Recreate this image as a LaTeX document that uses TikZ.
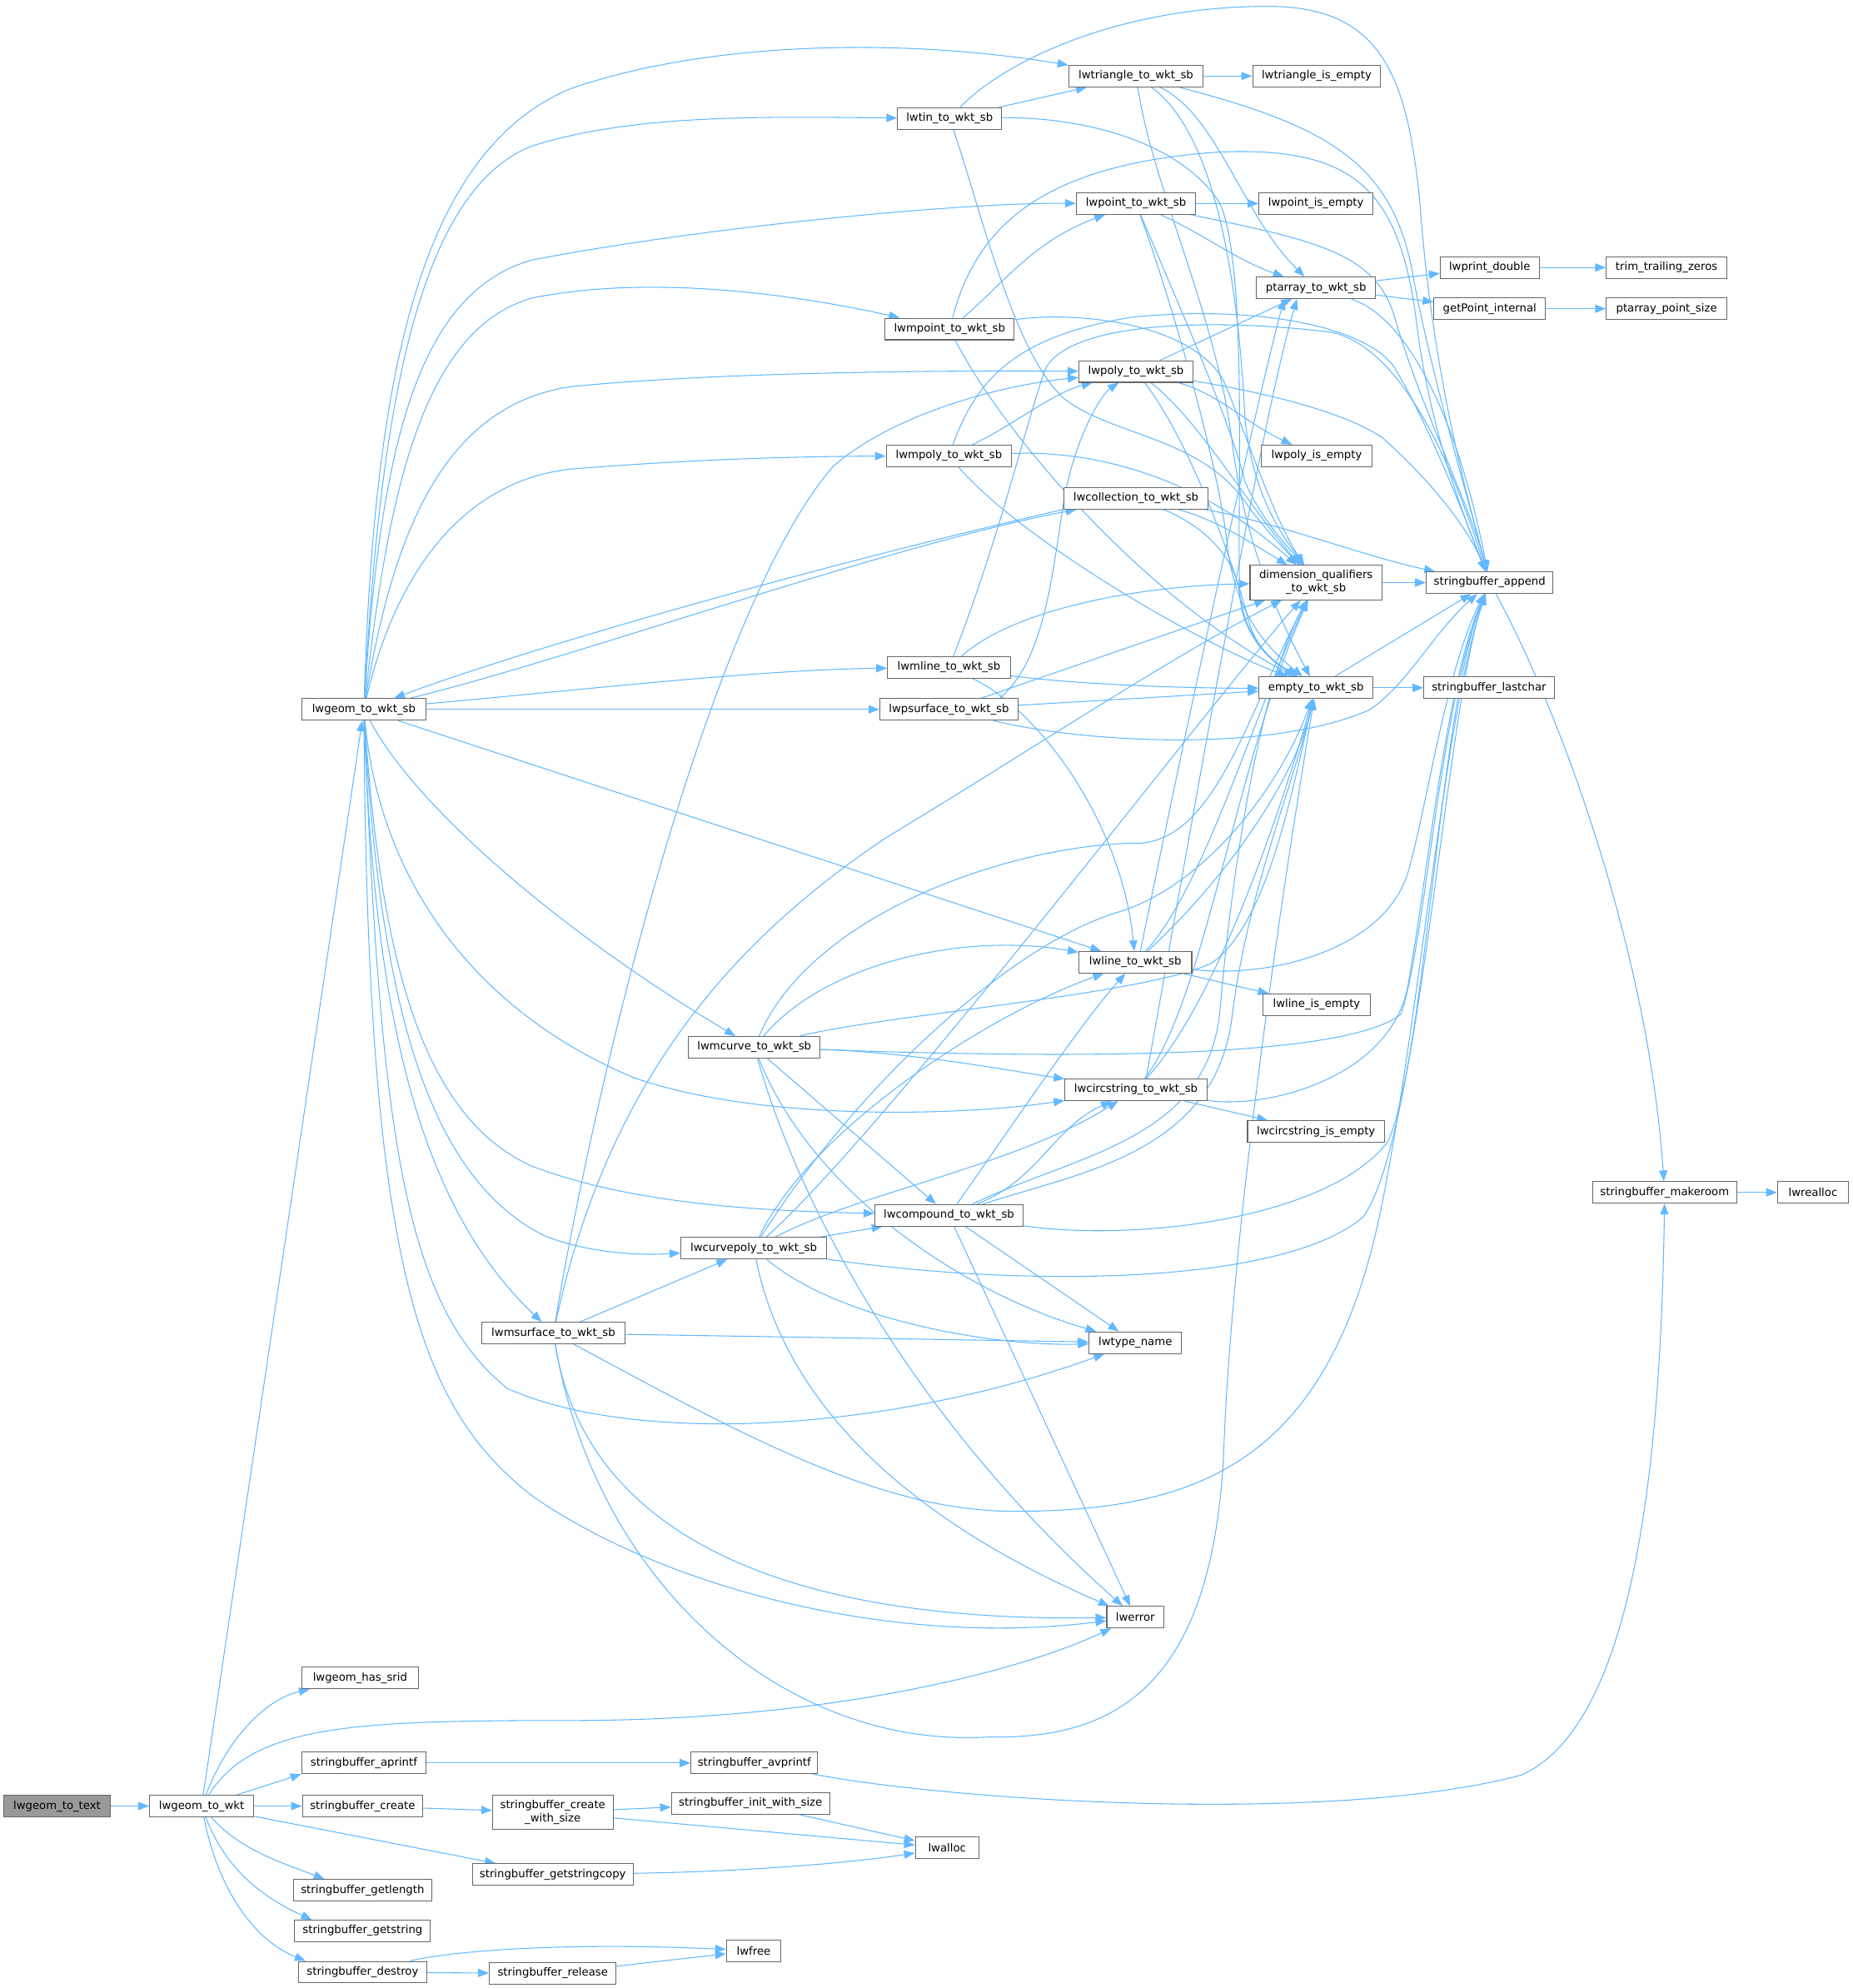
\documentclass[tikz,border=0pt]{standalone}
\usepackage{fontspec}
\newfontfamily\nf{DejaVu Sans}
\usetikzlibrary{arrows.meta}
\definecolor{edgec}{RGB}{99,184,255}
\definecolor{bordc}{RGB}{102,102,102}
\definecolor{grayf}{RGB}{153,153,153}
\pgfdeclarelayer{bg}
\pgfsetlayers{bg,main}
\begin{document}
\begin{tikzpicture}[x=1pt,y=-1pt,
  fn/.style={draw=bordc, line width=0.7pt, fill=white, rectangle, minimum height=17pt, inner xsep=2pt, inner ysep=1pt, font={\nf\fontsize{8.7}{10.5}\selectfont}, text=black},
  fn2/.style={fn, minimum height=27pt, align=center},
  ed/.style={draw=edgec, line width=0.7pt, -{Triangle[length=8.5pt,width=6.5pt]}}]
\useasboundingbox (0,0) rectangle (1461,1568);
% nodes
\node[fn, fill=grayf, minimum width=84pt] (text) at (45,1424.5) {lwgeom\_to\_text};
\node[fn, minimum width=82pt] (wkt) at (159,1424.5) {lwgeom\_to\_wkt};
\node[fn, minimum width=98pt] (sb) at (287,559.5) {lwgeom\_to\_wkt\_sb};
\node[fn, minimum width=92pt] (srid) at (284,1323.5) {lwgeom\_has\_srid};
\node[fn, minimum width=98pt] (aprintf) at (287,1390.5) {stringbuffer\_aprintf};
\node[fn, minimum width=95pt] (create) at (286,1424.5) {stringbuffer\_create};
\node[fn2, minimum width=95pt] (createws) at (436,1429.5) {stringbuffer\_create\\\_with\_size};
\node[fn, minimum width=127pt] (getstringcopy) at (436,1478.5) {stringbuffer\_getstringcopy};
\node[fn, minimum width=109pt] (getlength) at (286,1491) {stringbuffer\_getlength};
\node[fn, minimum width=107pt] (getstring) at (286,1523) {stringbuffer\_getstring};
\node[fn, minimum width=101pt] (destroy) at (286,1555.5) {stringbuffer\_destroy};
\node[fn, minimum width=100pt] (release) at (436,1556.5) {stringbuffer\_release};
\node[fn, minimum width=100pt] (avprintf) at (595,1390.5) {stringbuffer\_avprintf};
\node[fn, minimum width=125pt] (initws) at (592,1422.5) {stringbuffer\_init\_with\_size};
\node[fn, minimum width=50pt] (lwalloc) at (747,1457.5) {lwalloc};
\node[fn, minimum width=43pt] (lwfree) at (594.5,1538.5) {lwfree};
\node[fn, minimum width=106pt] (triangle) at (896,60) {lwtriangle\_to\_wkt\_sb};
\node[fn, minimum width=82pt] (tin) at (749,93.5) {lwtin\_to\_wkt\_sb};
\node[fn, minimum width=94pt] (point) at (896,160.5) {lwpoint\_to\_wkt\_sb};
\node[fn, minimum width=102pt] (mpoint) at (749,259.5) {lwmpoint\_to\_wkt\_sb};
\node[fn, minimum width=90pt] (poly) at (896,293) {lwpoly\_to\_wkt\_sb};
\node[fn, minimum width=99pt] (mpoly) at (748.5,359.5) {lwmpoly\_to\_wkt\_sb};
\node[fn, minimum width=114pt] (collection) at (896,393) {lwcollection\_to\_wkt\_sb};
\node[fn, minimum width=97pt] (mline) at (748.5,526.5) {lwmline\_to\_wkt\_sb};
\node[fn, minimum width=109pt] (psurface) at (748.5,559.5) {lwpsurface\_to\_wkt\_sb};
\node[fn, minimum width=89pt] (line) at (895.5,759) {lwline\_to\_wkt\_sb};
\node[fn, minimum width=104pt] (mcurve) at (595,826) {lwmcurve\_to\_wkt\_sb};
\node[fn, minimum width=112pt] (circstring) at (896,859.5) {lwcircstring\_to\_wkt\_sb};
\node[fn, minimum width=117pt] (compound) at (748.5,958.5) {lwcompound\_to\_wkt\_sb};
\node[fn, minimum width=115pt] (curvepoly) at (594.5,984.5) {lwcurvepoly\_to\_wkt\_sb};
\node[fn, minimum width=113pt] (msurface) at (436.5,1051.5) {lwmsurface\_to\_wkt\_sb};
\node[fn, minimum width=73pt] (typename) at (895.5,1059) {lwtype\_name};
\node[fn, minimum width=45pt] (lwerror) at (895.5,1275.5) {lwerror};
\node[fn, minimum width=101pt] (triempty) at (1038.5,60) {lwtriangle\_is\_empty};
\node[fn, minimum width=90pt] (pointempty) at (1038,160.5) {lwpoint\_is\_empty};
\node[fn, minimum width=94pt] (ptarray) at (1038,227) {ptarray\_to\_wkt\_sb};
\node[fn, minimum width=87pt] (polyempty) at (1038.5,359.5) {lwpoly\_is\_empty};
\node[fn2, minimum width=104pt] (dim) at (1038,459.5) {dimension\_qualifiers\\\_to\_wkt\_sb};
\node[fn, minimum width=90pt] (empty) at (1038,542.5) {empty\_to\_wkt\_sb};
\node[fn, minimum width=85pt] (lineempty) at (1038.5,792.5) {lwline\_is\_empty};
\node[fn, minimum width=108pt] (circempty) at (1038,892.5) {lwcircstring\_is\_empty};
\node[fn, minimum width=100pt] (append) at (1175,459.5) {stringbuffer\_append};
\node[fn, minimum width=103pt] (lastchar) at (1174.5,542.5) {stringbuffer\_lastchar};
\node[fn, minimum width=78pt] (lwprint) at (1175,211) {lwprint\_double};
\node[fn, minimum width=88pt] (getpoint) at (1175,243.5) {getPoint\_internal};
\node[fn, minimum width=95pt] (trim) at (1314.5,211) {trim\_trailing\_zeros};
\node[fn, minimum width=95pt] (ptsize) at (1314.5,243.5) {ptarray\_point\_size};
\node[fn, minimum width=114pt] (makeroom) at (1313,940.5) {stringbuffer\_makeroom};
\node[fn, minimum width=56pt] (realloc) at (1430,940.5) {lwrealloc};
% edges
\begin{pgfonlayer}{bg}
% bottom left part
\draw[ed] (text) -- (wkt);
\draw[ed] (wkt) -- (sb);
\draw[ed] (wkt) .. controls (180,1370) and (210,1340) .. (srid);
\draw[ed] (wkt) -- (aprintf.south west);
\draw[ed] (wkt) -- (create);
\draw[ed] (wkt) -- ([xshift=-45pt]getstringcopy.north);
\draw[ed] (wkt) .. controls (190,1460) and (225,1470) .. ([xshift=-30pt]getlength.north);
\draw[ed] (wkt) .. controls (180,1480) and (215,1500) .. ([xshift=-40pt]getstring.north);
\draw[ed] (wkt) .. controls (172,1490) and (200,1530) .. ([xshift=-45pt]destroy.north);
\draw[ed] (wkt) .. controls (200,1360) and (280,1357) .. (450,1357) .. controls (650,1357) and (800,1320) .. (lwerror);
\draw[ed] (create) -- (createws);
\draw[ed] (createws) -- (initws);
\draw[ed] (createws) -- (lwalloc);
\draw[ed] (initws) -- (lwalloc);
\draw[ed] (getstringcopy) .. controls (600,1476) and (680,1468) .. (lwalloc);
\draw[ed] (aprintf) -- (avprintf);
\draw[ed] (destroy) -- (release);
\draw[ed] (destroy) .. controls (360,1538) and (450,1532) .. (lwfree);
\draw[ed] (release) -- (lwfree);
\draw[ed] (avprintf) .. controls (750,1420) and (1050,1440) .. (1200,1400) .. controls (1290,1360) and (1310,1150) .. (makeroom);
\draw[ed] (makeroom) -- (realloc);
\draw[ed] (append) .. controls (1230,560) and (1300,750) .. (makeroom);
\draw[ed] (lwprint) -- (trim);
\draw[ed] (getpoint) -- (ptsize);
\draw[ed] (ptarray) -- (lwprint);
\draw[ed] (ptarray) -- (getpoint);
\draw[ed] (ptarray) .. controls (1110,250) and (1150,330) .. (append);
\draw[ed] (dim) -- (append);
\draw[ed] (empty) -- (append);
\draw[ed] (empty) -- (lastchar);
\draw[ed] (triangle) -- (triempty);
\draw[ed] (point) -- (pointempty);
% from lwgeom_to_wkt_sb
\draw[ed] (sb) .. controls (295,300) and (330,120) .. (450,70) .. controls (550,35) and (700,28) .. (triangle);
\draw[ed] (sb) .. controls (300,320) and (330,150) .. (420,115) .. controls (500,90) and (600,92) .. (tin);
\draw[ed] (sb) .. controls (300,350) and (330,230) .. (420,205) .. controls (550,180) and (750,160) .. (point);
\draw[ed] (sb) .. controls (305,400) and (330,260) .. (420,235) .. controls (520,215) and (640,235) .. (mpoint);
\draw[ed] (sb) .. controls (310,420) and (350,320) .. (450,305) .. controls (550,295) and (700,292) .. (poly);
\draw[ed] (sb) .. controls (310,460) and (360,380) .. (450,370) .. controls (550,362) and (630,360) .. (mpoly);
\draw[ed] (sb) .. controls (450,520) and (700,430) .. (collection);
\draw[ed] (collection.south west) .. controls (650,445) and (420,510) .. (sb);
\draw[ed] (sb) .. controls (450,545) and (600,528) .. (mline);
\draw[ed] (sb) -- (psurface);
\draw[ed] (sb) -- (line);
\draw[ed] (sb) .. controls (330,640) and (450,740) .. (mcurve);
\draw[ed] (sb) .. controls (300,700) and (380,800) .. (500,850) .. controls (600,885) and (760,880) .. (circstring);
\draw[ed] (sb) .. controls (300,750) and (330,880) .. (420,920) .. controls (500,950) and (600,955) .. (compound);
\draw[ed] (sb) .. controls (300,800) and (340,930) .. (430,975) .. controls (470,990) and (510,990) .. (curvepoly);
\draw[ed] (sb) .. controls (295,800) and (330,950) .. (msurface);
\draw[ed] (sb) .. controls (300,900) and (320,1030) .. (400,1095) .. controls (500,1140) and (700,1130) .. (typename);
\draw[ed] (sb) .. controls (290,1000) and (330,1110) .. (420,1180) .. controls (520,1250) and (700,1300) .. (lwerror);
% triangle
\draw[ed] (tin) -- (triangle);
\draw[ed] (triangle) .. controls (1050,100) and (1100,130) .. (1115,220) .. controls (1130,300) and (1160,400) .. (append);
\draw[ed] (triangle) .. controls (960,90) and (980,170) .. (ptarray);
\draw[ed] (triangle) .. controls (965,110) and (978,250) .. (982,330) .. controls (988,390) and (1010,420) .. (dim);
\draw[ed] (triangle) .. controls (910,150) and (960,250) .. (972,350) .. controls (982,430) and (1010,490) .. (empty);
% tin
\draw[ed] (tin) .. controls (790,50) and (880,5) .. (1000,5) .. controls (1090,5) and (1110,60) .. (1120,160) .. controls (1130,300) and (1160,400) .. (append);
\draw[ed] (tin) .. controls (775,170) and (800,280) .. (840,315) .. controls (880,345) and (950,345) .. (985,400) .. controls (1000,420) and (1015,435) .. (dim);
\draw[ed] (tin) .. controls (850,92) and (930,110) .. (962,160) .. controls (985,210) and (975,400) .. (978,470) .. controls (980,500) and (1000,520) .. (empty);
% point
\draw[ed] (point) .. controls (950,185) and (975,205) .. (ptarray);
\draw[ed] (point) .. controls (1040,190) and (1085,200) .. (1100,250) .. controls (1120,320) and (1160,400) .. (append);
\draw[ed] (point) .. controls (925,230) and (970,330) .. (982,380) .. controls (995,410) and (1015,430) .. (dim);
\draw[ed] (point) .. controls (925,240) and (962,370) .. (968,430) .. controls (975,490) and (1005,515) .. (empty);
% mpoint
\draw[ed] (mpoint) .. controls (790,225) and (815,190) .. (point);
\draw[ed] (mpoint) .. controls (770,180) and (820,130) .. (960,120) .. controls (1070,115) and (1105,150) .. (1118,260) .. controls (1130,350) and (1160,420) .. (append);
\draw[ed] (mpoint) .. controls (850,245) and (940,255) .. (965,300) .. controls (982,340) and (1005,410) .. (dim);
\draw[ed] (mpoint) .. controls (790,340) and (900,470) .. (empty);
% poly
\draw[ed] (poly) -- (ptarray);
\draw[ed] (poly) .. controls (960,310) and (985,335) .. (polyempty);
\draw[ed] (poly) .. controls (1000,310) and (1060,325) .. (1090,345) .. controls (1130,380) and (1160,420) .. (append);
\draw[ed] (poly) .. controls (945,330) and (985,400) .. (dim);
\draw[ed] (poly) .. controls (940,350) and (975,450) .. (985,490) .. controls (992,515) and (1010,525) .. (empty);
% mpoly
\draw[ed] (mpoly) .. controls (800,335) and (830,310) .. (poly);
\draw[ed] (mpoly) .. controls (770,300) and (800,265) .. (894,250) .. controls (1000,240) and (1080,260) .. (1100,290) .. controls (1130,340) and (1160,420) .. (append);
\draw[ed] (mpoly) .. controls (870,355) and (950,380) .. (dim);
\draw[ed] (mpoly) .. controls (800,420) and (930,500) .. (empty);
% collection
\draw[ed] (collection) .. controls (1000,410) and (1080,440) .. (append);
\draw[ed] (collection) .. controls (960,410) and (990,430) .. (dim);
\draw[ed] (collection) .. controls (950,415) and (975,440) .. (978,470) .. controls (982,500) and (1000,520) .. (empty);
% mline
\draw[ed] (mline) .. controls (820,560) and (885,650) .. (line);
\draw[ed] (mline) .. controls (800,480) and (900,462) .. (dim);
\draw[ed] (mline) .. controls (850,540) and (940,543) .. (empty);
\draw[ed] (mline) .. controls (790,420) and (810,330) .. (825,290) .. controls (845,255) and (950,250) .. (1050,262) .. controls (1110,275) and (1150,380) .. (append);
% psurface
\draw[ed] ([xshift=40pt]psurface.north) .. controls (825,520) and (830,450) .. (840,390) .. controls (850,340) and (870,310) .. (poly);
\draw[ed] (psurface) -- (dim);
\draw[ed] (psurface) -- (empty);
\draw[ed] (psurface) .. controls (850,585) and (1000,595) .. (1080,560) .. controls (1110,540) and (1130,500) .. (append);
% line
\draw[ed] ([xshift=4pt]line.north) .. controls (930,600) and (990,320) .. ([xshift=-25pt]ptarray.south);
\draw[ed] (line) .. controls (950,700) and (990,560) .. (dim);
\draw[ed] (line) .. controls (960,700) and (1020,620) .. (empty);
\draw[ed] (line) -- (lineempty);
\draw[ed] (line) .. controls (1000,772) and (1090,750) .. (1110,690) .. controls (1125,640) and (1140,530) .. (append);
% mcurve
\draw[ed] (mcurve) .. controls (650,760) and (760,735) .. (line);
\draw[ed] (mcurve) .. controls (640,720) and (800,665) .. (900,665) .. controls (960,660) and (985,560) .. (dim);
\draw[ed] (mcurve) .. controls (700,800) and (900,785) .. (955,760) .. controls (1000,730) and (1020,620) .. (empty);
\draw[ed] (mcurve) .. controls (720,830) and (800,845) .. (circstring);
\draw[ed] (mcurve) .. controls (850,835) and (1060,835) .. (1105,800) .. controls (1125,740) and (1135,560) .. (append);
\draw[ed] (mcurve) -- (compound);
\draw[ed] (mcurve) .. controls (640,940) and (760,1020) .. (typename);
\draw[ed] (mcurve) .. controls (630,950) and (720,1120) .. (lwerror);
% circstring
\draw[ed] ([xshift=8pt]circstring.north) .. controls (940,650) and (995,330) .. ([xshift=-15pt]ptarray.south);
\draw[ed] (circstring) .. controls (950,790) and (975,600) .. (dim);
\draw[ed] (circstring) .. controls (960,790) and (1010,640) .. (empty);
\draw[ed] (circstring) -- (circempty);
\draw[ed] (circstring) .. controls (1000,875) and (1095,850) .. (1110,780) .. controls (1125,700) and (1140,540) .. (append);
% compound
\draw[ed] (compound) .. controls (790,900) and (850,810) .. (line);
\draw[ed] (compound) .. controls (820,930) and (830,890) .. (circstring);
\draw[ed] (compound) .. controls (850,910) and (950,900) .. (962,800) .. controls (972,680) and (995,540) .. (dim);
\draw[ed] (compound) .. controls (850,925) and (960,910) .. (972,800) .. controls (985,700) and (1020,620) .. (empty);
\draw[ed] (compound) .. controls (900,980) and (1050,960) .. (1095,900) .. controls (1125,830) and (1135,560) .. (append);
\draw[ed] (compound) -- (typename);
\draw[ed] (compound) -- (lwerror);
% curvepoly
\draw[ed] (curvepoly) -- (compound);
\draw[ed] (curvepoly) .. controls (680,940) and (800,920) .. (circstring);
\draw[ed] (curvepoly) .. controls (640,890) and (780,800) .. (line);
\draw[ed] (curvepoly) .. controls (700,890) and (950,560) .. (dim);
\draw[ed] (curvepoly) .. controls (680,850) and (800,745) .. (880,720) .. controls (950,700) and (1010,620) .. (empty);
\draw[ed] (curvepoly) .. controls (800,1015) and (1010,1015) .. (1075,960) .. controls (1120,900) and (1140,560) .. (append);
\draw[ed] (curvepoly) .. controls (660,1040) and (780,1062) .. (typename);
\draw[ed] (curvepoly) .. controls (620,1110) and (720,1200) .. (lwerror);
% msurface
\draw[ed] (msurface) -- (curvepoly);
\draw[ed] (msurface) .. controls (470,850) and (560,480) .. (657,368) .. controls (700,330) and (780,305) .. (poly);
\draw[ed] (msurface) .. controls (480,850) and (580,740) .. (700,660) .. controls (800,600) and (920,520) .. (dim);
\draw[ed] (msurface) .. controls (600,1140) and (700,1192) .. (800,1192) .. controls (950,1192) and (1050,1150) .. (1090,950) .. controls (1120,800) and (1140,560) .. (append);
\draw[ed] (msurface) .. controls (470,1250) and (620,1380) .. (780,1370) .. controls (880,1372) and (955,1330) .. (965,1150) .. controls (972,950) and (1020,650) .. (empty);
\draw[ed] (msurface) -- (typename);
\draw[ed] (msurface) .. controls (460,1200) and (600,1280) .. (lwerror);
\end{pgfonlayer}
\end{tikzpicture}
\end{document}
